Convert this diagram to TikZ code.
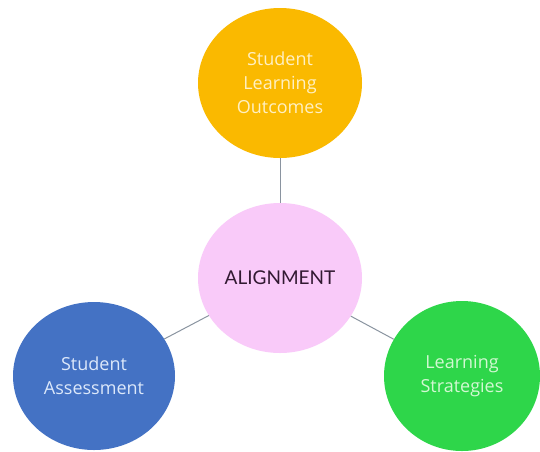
\documentclass[tikz,border=0pt]{standalone}
\usepackage{fontspec}
\setmainfont{Open Sans}
\newfontfamily\capsfont{Lato}
\usetikzlibrary{shapes.geometric}
\definecolor{orangeC}{RGB}{250,185,0}
\definecolor{blueC}{RGB}{68,114,196}
\definecolor{greenC}{RGB}{46,214,74}
\definecolor{pinkC}{RGB}{249,202,249}
\definecolor{lineC}{RGB}{138,148,160}
\definecolor{alignC}{RGB}{50,25,50}
\definecolor{txtO}{RGB}{255,240,195}
\definecolor{txtB}{RGB}{220,232,250}
\definecolor{txtG}{RGB}{210,248,210}
\tikzset{
  bubble/.style={ellipse, inner sep=0pt, minimum width=164pt, minimum height=150pt,
    align=center, font=\fontsize{18}{24}\selectfont},
  link/.style={draw=lineC, line width=1pt}
}
\begin{document}
\begin{tikzpicture}[x=1pt,y=-1pt]
\useasboundingbox (0,0) rectangle (540,451);
\clip (0,0) rectangle (540,451);
\fill[white] (0,0) rectangle (540,451);
\node[bubble, fill=orangeC, text=txtO] (slo) at (280,83) {Student\\Learning\\Outcomes};
\node[bubble, fill=pinkC, text=alignC, font=\capsfont\fontsize{19}{22}\selectfont] (al) at (280,278) {ALIGNMENT};
\node[bubble, fill=blueC, text=txtB, minimum width=162pt, minimum height=148pt] (sa) at (94,376) {Student\\Assessment};
\node[bubble, fill=greenC, text=txtG, minimum width=156pt, minimum height=150pt] (ls) at (462,376) {Learning\\Strategies};
\draw[link] (slo) -- (al);
\draw[link] (al) -- (sa);
\draw[link] (al) -- (ls);
\end{tikzpicture}
\end{document}
